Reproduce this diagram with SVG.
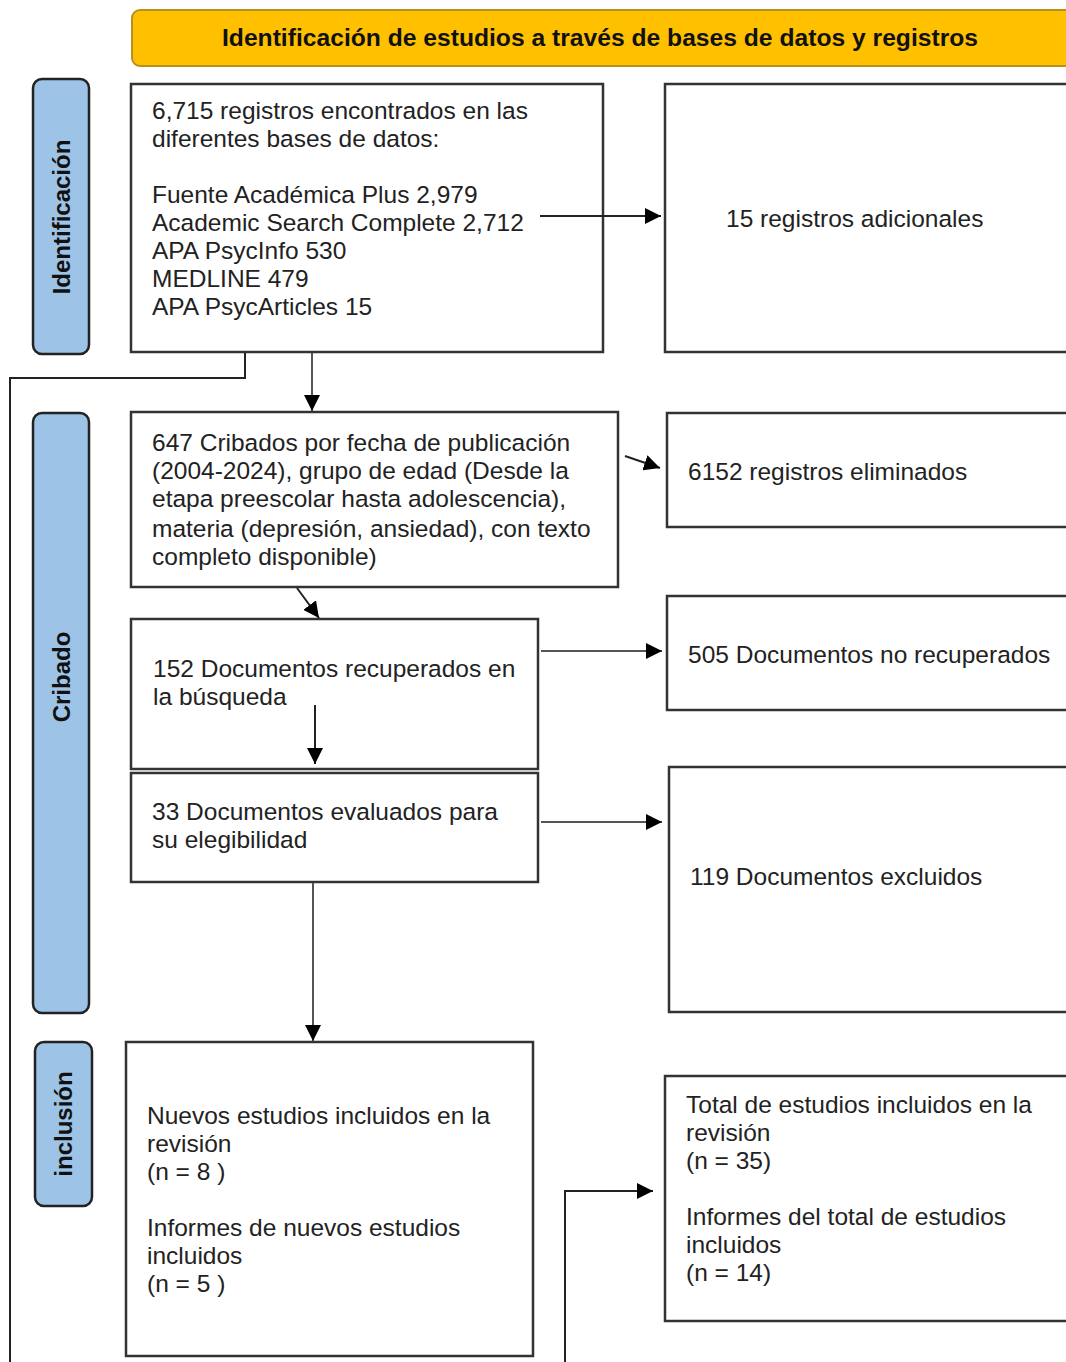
<svg xmlns="http://www.w3.org/2000/svg" width="1066" height="1362" viewBox="0 0 1066 1362">
<style>
.box{fill:#fff;stroke:#333;stroke-width:2.5}
.side{fill:#9DC3E6;stroke:#222;stroke-width:2.5}
.t{font-family:"Liberation Sans",Arial,sans-serif;font-size:24.5px;fill:#222}
.sl{font-family:"Liberation Sans",Arial,sans-serif;font-size:24px;font-weight:bold;fill:#111;text-anchor:middle}
.c{fill:none;stroke:#555;stroke-width:2}
.ck{fill:none;stroke:#222;stroke-width:2}
</style>
<defs>
<marker id="ah" viewBox="0 0 10 10" refX="10" refY="5" markerWidth="16" markerHeight="16" markerUnits="userSpaceOnUse" orient="auto">
<path d="M0,0 L10,5 L0,10 z" fill="#000"/>
</marker>
</defs>
<rect width="1066" height="1362" fill="#fff"/>

<g id="banner">
<rect x="132" y="10" width="945" height="56" rx="8" fill="#FFC000" stroke="#B89020" stroke-width="2"/>
<text x="600" y="46" class="sl" style="font-size:23px" textLength="756" lengthAdjust="spacingAndGlyphs">Identificación de estudios a través de bases de datos y registros</text>
</g>

<g id="lbl-identificacion">
<rect x="33" y="79" width="56" height="275" rx="9" class="side"/>
<text class="sl" transform="translate(70,217) rotate(-90)">Identificación</text>
</g>
<g id="lbl-cribado">
<rect x="33" y="413" width="56" height="600" rx="9" class="side"/>
<text class="sl" transform="translate(70,677) rotate(-90)">Cribado</text>
</g>
<g id="lbl-inclusion">
<rect x="35" y="1042" width="57" height="164" rx="9" class="side"/>
<text class="sl" transform="translate(72,1124) rotate(-90)">inclusión</text>
</g>

<g id="n-registros">
<rect x="131" y="84" width="472" height="268" class="box"/>
<text class="t" x="152" y="119">6,715 registros encontrados en las</text>
<text class="t" x="152" y="147">diferentes bases de datos:</text>
<text class="t" x="152" y="203">Fuente Académica Plus 2,979</text>
<text class="t" x="152" y="231">Academic Search Complete 2,712</text>
<text class="t" x="152" y="259">APA PsycInfo 530</text>
<text class="t" x="152" y="287">MEDLINE 479</text>
<text class="t" x="152" y="315">APA PsycArticles 15</text>
</g>

<g id="n-adicionales">
<rect x="665" y="84" width="410" height="268" class="box"/>
<text class="t" x="726" y="227">15 registros adicionales</text>
</g>

<g id="n-cribados">
<rect x="131" y="412" width="487" height="175" class="box"/>
<text class="t" x="152" y="451">647 Cribados por fecha de publicación</text>
<text class="t" x="152" y="479">(2004-2024), grupo de edad (Desde la</text>
<text class="t" x="152" y="507">etapa preescolar hasta adolescencia),</text>
<text class="t" x="152" y="537">materia (depresión, ansiedad), con texto</text>
<text class="t" x="152" y="565">completo disponible)</text>
</g>

<g id="n-eliminados">
<rect x="667" y="413" width="410" height="114" class="box"/>
<text class="t" x="688" y="480">6152 registros eliminados</text>
</g>

<g id="n-recuperados">
<rect x="131" y="619" width="407" height="150" class="box"/>
<text class="t" x="153" y="677">152 Documentos recuperados en</text>
<text class="t" x="153" y="705">la búsqueda</text>
</g>

<g id="n-no-recuperados">
<rect x="667" y="596" width="410" height="114" class="box"/>
<text class="t" x="688" y="663">505 Documentos no recuperados</text>
</g>

<g id="n-evaluados">
<rect x="131" y="773" width="407" height="109" class="box"/>
<text class="t" x="152" y="820">33 Documentos evaluados para</text>
<text class="t" x="152" y="848">su elegibilidad</text>
</g>

<g id="n-excluidos">
<rect x="669" y="767" width="410" height="245" class="box"/>
<text class="t" x="690" y="885">119 Documentos excluidos</text>
</g>

<g id="n-nuevos">
<rect x="126" y="1042" width="407" height="314" class="box"/>
<text class="t" x="147" y="1124">Nuevos estudios incluidos en la</text>
<text class="t" x="147" y="1152">revisión</text>
<text class="t" x="147" y="1180">(n = 8 )</text>
<text class="t" x="147" y="1236">Informes de nuevos estudios</text>
<text class="t" x="147" y="1264">incluidos</text>
<text class="t" x="147" y="1292">(n = 5 )</text>
</g>

<g id="n-total">
<rect x="665" y="1076" width="410" height="245" class="box"/>
<text class="t" x="686" y="1113">Total de estudios incluidos en la</text>
<text class="t" x="686" y="1141">revisión</text>
<text class="t" x="686" y="1169">(n = 35)</text>
<text class="t" x="686" y="1225">Informes del total de estudios</text>
<text class="t" x="686" y="1253">incluidos</text>
<text class="t" x="686" y="1281">(n = 14)</text>
</g>

<g id="connectors">
<polyline class="ck" points="245,353 245,378 10,378 10,1362"/>
<line class="c" x1="312" y1="353" x2="312" y2="411" marker-end="url(#ah)"/>
<line class="ck" x1="540" y1="216" x2="661" y2="216" marker-end="url(#ah)"/>
<line class="ck" x1="625" y1="456" x2="660" y2="468" marker-end="url(#ah)"/>
<line class="ck" x1="297" y1="588" x2="319" y2="618" marker-end="url(#ah)"/>
<line class="c" x1="541" y1="651" x2="662" y2="651" marker-end="url(#ah)"/>
<line class="ck" x1="315" y1="705" x2="315" y2="764" marker-end="url(#ah)"/>
<line class="c" x1="541" y1="822" x2="662" y2="822" marker-end="url(#ah)"/>
<line class="c" x1="313" y1="883" x2="313" y2="1041" marker-end="url(#ah)"/>
<polyline class="ck" points="565,1362 565,1191 653,1191" marker-end="url(#ah)"/>
</g>
</svg>
